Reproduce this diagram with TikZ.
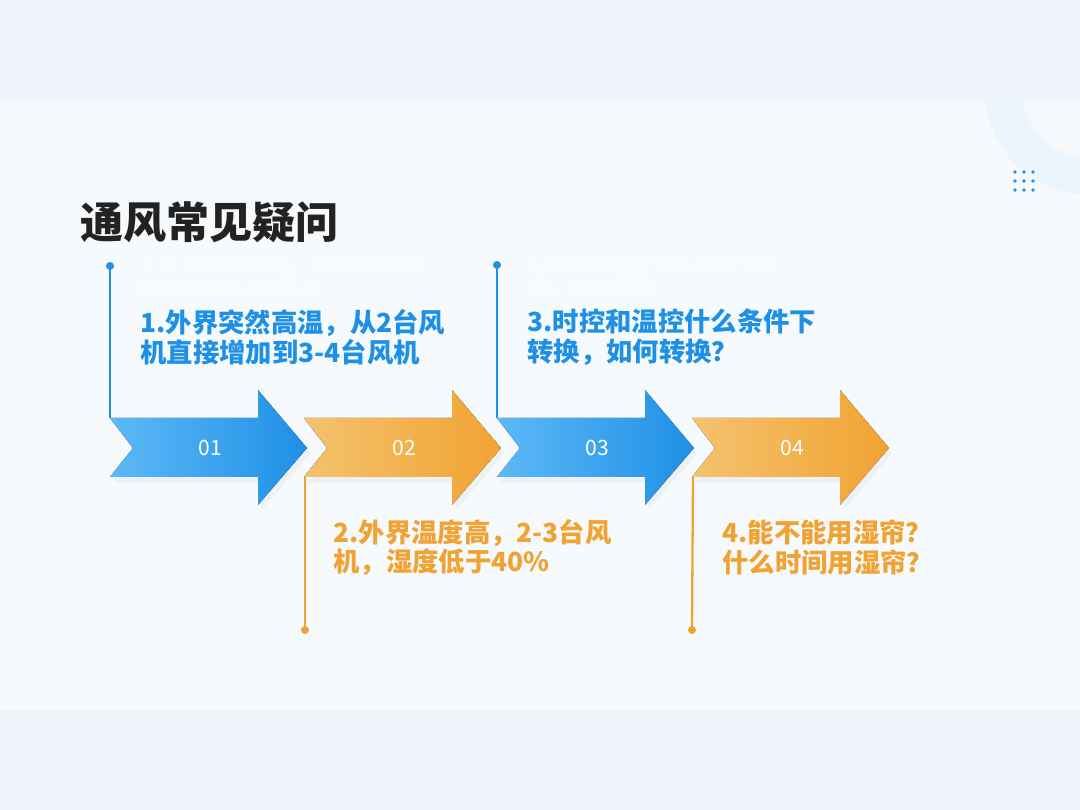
\documentclass[tikz,border=0pt]{standalone}
\usepackage{fontspec}
\setmainfont{Noto Sans CJK SC}
\usepackage{tikz}
\usetikzlibrary{positioning,shadows}
\definecolor{stepblue}{HTML}{1E90E6}
\definecolor{stepbluel}{HTML}{5DB9F7}
\definecolor{steporange}{HTML}{F0A332}
\definecolor{steporangel}{HTML}{F5C26F}
\definecolor{bandbg}{HTML}{EEF4FA}
\definecolor{panelbg}{HTML}{F7FAFD}
\definecolor{titleink}{HTML}{222222}

\begin{document}
\begin{tikzpicture}[x=0.02cm, y=-0.02cm, font=\fontsize{15}{17}\selectfont\bfseries]
\tikzstyle{link}=[line width=1.3pt]
\tikzstyle{bluelink}=[link, draw=stepblue]
\tikzstyle{orangelink}=[link, draw=steporange]
\tikzstyle{qtext}=[anchor=west, align=left, inner sep=0pt]
\tikzstyle{ghost}=[qtext, font=\fontsize{12}{13.5}\selectfont\bfseries, text=stepblue!4]
\tikzstyle{numtext}=[text=white, font=\fontsize{12}{14}\selectfont]
\tikzstyle{bluestep}=[left color=stepbluel, right color=stepblue, drop shadow={opacity=0.07, shadow xshift=2pt, shadow yshift=-3pt}]
\tikzstyle{orangestep}=[left color=steporangel, right color=steporange, drop shadow={opacity=0.07, shadow xshift=2pt, shadow yshift=-3pt}]
\useasboundingbox (0,0) rectangle (1080,810);
% background
\fill[bandbg] (0,0) rectangle (1080,810);
\fill[panelbg] (0,100) rectangle (1080,710);
\begin{scope}
\clip (0,100) rectangle (1080,710);
\fill[stepblue!9, even odd rule] (1090,90) circle (105) (1090,90) circle (68);
\end{scope}
\foreach \i in {0,1,2}
  \foreach \j in {0,1,2}
    \fill[stepblue] (1015+9*\i,172+9*\j) circle (1.8);
% title
\node[anchor=west, inner sep=0pt, text=titleink, font=\fontsize{24.5}{28}\selectfont\bfseries] (title) at (80,222) {通风常见疑问};
% arrows
\foreach \i/\x/\s in {1/110/bluestep, 2/304/orangestep, 3/497/bluestep, 4/692/orangestep}{
  \fill[\s] (\x,418) -- (\x+148,418) -- (\x+148,390) -- (\x+197,448) -- (\x+148,505)
    -- (\x+148,477) -- (\x,477) -- (\x+23,448) -- cycle;
  \node[numtext] (a\i) at (\x+100,448) {0\i};
  \coordinate (a\i-tl) at (\x,418);
  \coordinate (a\i-bl) at (\x+1,477);
}
% questions
\node[ghost] (g1) at (140,276.5) {1.外界突然高温，从2台风机直\\接增加到3-4台风机};
\node[ghost] (g3) at (527,276.5) {3.时控和温控什么条件下转\\换，如何转换};
\node[qtext, text=stepblue] (q1) at (140,337.5) {1.外界突然高温，从2台风\\机直接增加到3-4台风机};
\node[qtext, text=steporange] (q2) at (333,547.5) {2.外界温度高，2-3台风\\机，湿度低于40\%};
\node[qtext, text=stepblue] (q3) at (527,337.5) {3.时控和温控什么条件下\\转换，如何转换？};
\node[qtext, text=steporange] (q4) at (722,547.5) {4.能不能用湿帘？\\什么时间用湿帘？};
% leader lines
\coordinate (d1) at (110,266);
\coordinate (d2) at (305,630);
\coordinate (d3) at (497,265);
\coordinate (d4) at (692,630);
\draw[bluelink] (d1) -- (a1-tl);
\draw[bluelink] (d3) -- (a3-tl);
\draw[orangelink] (d2) -- (a2-bl);
\draw[orangelink] (d4) -- (a4-bl);
\fill[stepblue] (d1) circle (4) (d3) circle (4);
\fill[steporange] (d2) circle (4) (d4) circle (4);
\end{tikzpicture}
\end{document}
